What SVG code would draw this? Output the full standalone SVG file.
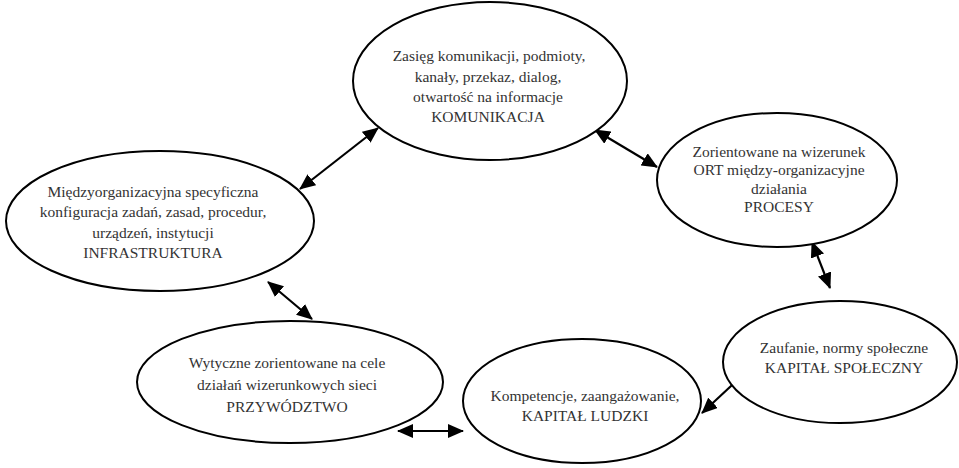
<svg xmlns="http://www.w3.org/2000/svg" width="959" height="468" viewBox="0 0 959 468">
<defs>
<marker id="ah" viewBox="0 0 16 14" markerWidth="16" markerHeight="14" refX="15" refY="7" orient="auto-start-reverse" markerUnits="userSpaceOnUse">
<path d="M0,0 L16,7 L0,14 z" fill="#000"/>
</marker>
<style>
.node ellipse{fill:#fff;stroke:#000;stroke-width:2}
.node text{font-family:'Liberation Serif','Times New Roman',serif;font-size:15.5px;fill:#333;text-anchor:middle}
#connectors line{stroke:#000;stroke-width:2.2;marker-start:url(#ah);marker-end:url(#ah)}
</style>
</defs>
<rect width="959" height="468" fill="#fff"/>
<g id="connectors">
<line x1="300" y1="189" x2="378" y2="128"/>
<line x1="595" y1="130" x2="657" y2="167"/>
<line x1="812" y1="242" x2="830" y2="288"/>
<line x1="745" y1="373" x2="702" y2="413"/>
<line x1="398" y1="431" x2="463" y2="431"/>
<line x1="268" y1="282" x2="312" y2="319"/>
</g>
<g id="komunikacja" class="node">
<ellipse cx="490" cy="81" rx="137" ry="79"/>
<text x="489" y="61">Zasięg komunikacji, podmioty,</text>
<text x="488" y="82">kanały, przekaz, dialog,</text>
<text x="488" y="102">otwartość na informacje</text>
<text x="488" y="122">KOMUNIKACJA</text>
</g>
<g id="procesy" class="node">
<ellipse cx="777" cy="180" rx="120" ry="67"/>
<text x="779" y="157">Zorientowane na wizerunek</text>
<text x="779" y="175">ORT między-organizacyjne</text>
<text x="779" y="194">działania</text>
<text x="779" y="212">PROCESY</text>
</g>
<g id="infrastruktura" class="node">
<ellipse cx="160" cy="221" rx="154" ry="70"/>
<text x="153" y="197">Międzyorganizacyjna specyficzna</text>
<text x="153" y="217">konfiguracja zadań, zasad, procedur,</text>
<text x="153" y="238">urządzeń, instytucji</text>
<text x="153" y="258">INFRASTRUKTURA</text>
</g>
<g id="przywodztwo" class="node">
<ellipse cx="290" cy="382" rx="153" ry="61"/>
<text x="287" y="368">Wytyczne zorientowane na cele</text>
<text x="287" y="390">działań wizerunkowych sieci</text>
<text x="287" y="412">PRZYWÓDZTWO</text>
</g>
<g id="kapital-ludzki" class="node">
<ellipse cx="582" cy="401" rx="119" ry="62"/>
<text x="585" y="401">Kompetencje, zaangażowanie,</text>
<text x="585" y="421">KAPITAŁ LUDZKI</text>
</g>
<g id="kapital-spoleczny" class="node">
<ellipse cx="840" cy="362" rx="117" ry="61"/>
<text x="844" y="353">Zaufanie, normy społeczne</text>
<text x="844" y="373">KAPITAŁ SPOŁECZNY</text>
</g>
</svg>
